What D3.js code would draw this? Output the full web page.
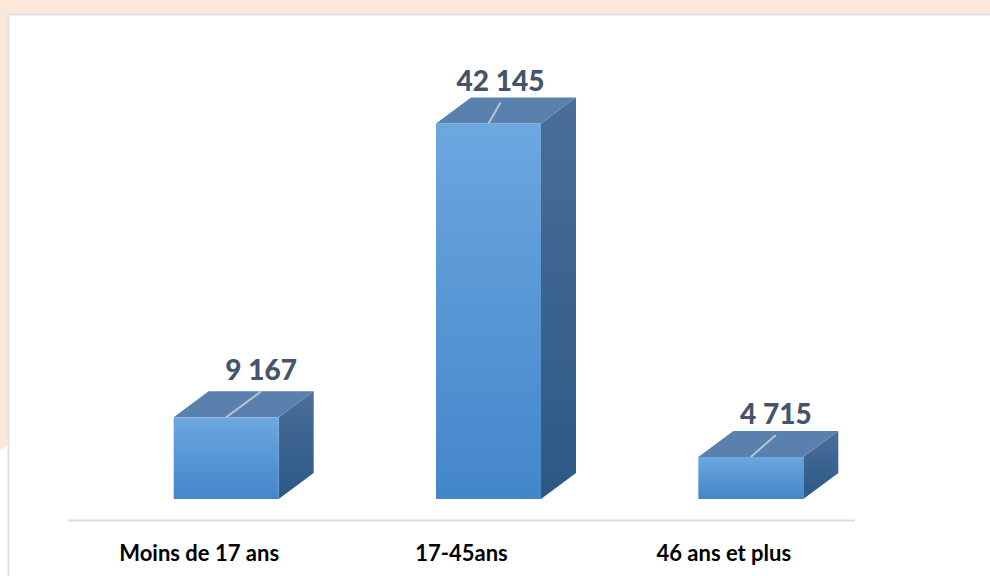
<!DOCTYPE html>
<html><head><meta charset="utf-8">
<script src="https://cdn.jsdelivr.net/npm/d3@7"></script>
<style>
html,body{margin:0;padding:0;background:#fbe8d9;}
svg{display:block;}
</style></head>
<body>
<svg id="chart" width="990" height="576"></svg>
<script>
const categories = ["Moins de 17 ans", "17-45ans", "46 ans et plus"];
const values = [9167, 42145, 4715];
const valueLabels = ["9 167", "42 145", "4 715"];
// per-label horizontal nudge (layout, in px) relative to the top-face back edge
const labelNudge = [0, -23, -10];
const labelLift = [11, 6, 7];

const W = 990, H = 576;
const svg = d3.select("#chart");

// page background and white panel
svg.append("rect").attr("x",0).attr("y",0).attr("width",W).attr("height",H).attr("fill","#fbe8d9");
svg.append("path").attr("d","M0,450 L8,445 L8,576 L0,576 Z").attr("fill","#ffffff");
svg.append("rect").attr("x",8.5).attr("y",14.5).attr("width",W).attr("height",H)
   .attr("fill","#ffffff").attr("stroke","#dce3ec").attr("stroke-width",2);

const defs = svg.append("defs");
const gF = defs.append("linearGradient").attr("id","gFront").attr("x1",0).attr("y1",0).attr("x2",0).attr("y2",1);
gF.append("stop").attr("offset","0%").attr("stop-color","#6ca7e0");
gF.append("stop").attr("offset","100%").attr("stop-color","#4386ca");
const gS = defs.append("linearGradient").attr("id","gSide").attr("x1",0).attr("y1",0).attr("x2",0).attr("y2",1);
gS.append("stop").attr("offset","0%").attr("stop-color","#4a6e98");
gS.append("stop").attr("offset","100%").attr("stop-color","#2c5886");

const floorY = 499;
const x = d3.scaleBand().domain(categories).range([68, 855]).paddingInner(0).paddingOuter(0);
const y = d3.scaleLinear().domain([0, 45000]).range([floorY, 98]);
const depthX = 35, depthY = -26;
const barW = 105;
const frontShift = 27 - barW/2; // front face offset from band center

// baseline / category axis line
svg.append("line").attr("x1",68).attr("x2",855).attr("y1",520.5).attr("y2",520.5)
   .attr("stroke","#d9dde3").attr("stroke-width",2);

const g = svg.append("g");
categories.forEach((c,i)=>{
  const x0 = x(c) + x.bandwidth()/2 + frontShift;
  const x1 = x0 + barW;
  const yt = y(values[i]);
  // right side
  g.append("path").attr("d",`M${x1},${floorY} L${x1},${yt} L${x1+depthX},${yt+depthY} L${x1+depthX},${floorY+depthY} Z`)
    .attr("fill","url(#gSide)");
  // top
  g.append("path").attr("d",`M${x0},${yt} L${x1},${yt} L${x1+depthX},${yt+depthY} L${x0+depthX},${yt+depthY} Z`)
    .attr("fill","#5a81ae");
  // front
  g.append("rect").attr("x",x0).attr("y",yt).attr("width",barW).attr("height",floorY-yt)
    .attr("fill","url(#gFront)");
  // value label
  const lx = x0 + barW/2 + depthX + labelNudge[i];
  const ly = yt + depthY - labelLift[i];
  g.append("line").attr("x1",x0+barW/2).attr("y1",yt).attr("x2",lx).attr("y2",ly+11)
    .attr("stroke","#b9c3cf").attr("stroke-width",2);
  g.append("text").attr("x",lx).attr("y",ly).attr("text-anchor","middle")
    .attr("font-family","Lato, 'Open Sans', sans-serif").attr("font-weight","900")
    .attr("font-size",28).attr("fill","#44546a").text(valueLabels[i]);
  // category label
  g.append("text").attr("x",x(c)+x.bandwidth()/2).attr("y",561).attr("text-anchor","middle")
    .attr("font-family","Lato, 'Open Sans', sans-serif").attr("font-weight","bold")
    .attr("font-size",22).attr("fill","#000000").text(c);
});
</script>
</body></html>
